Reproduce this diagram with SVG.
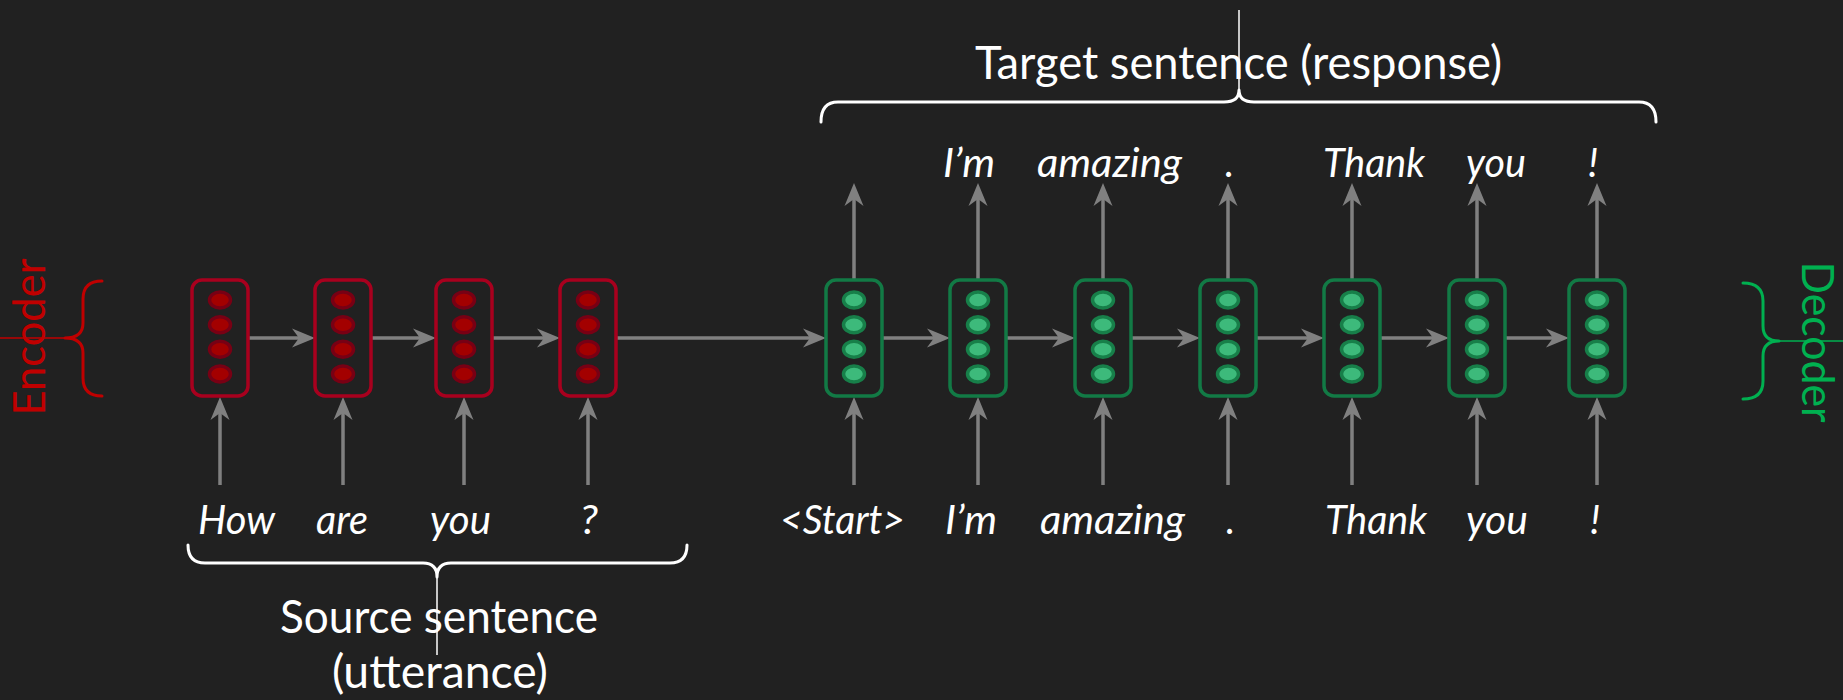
<svg xmlns="http://www.w3.org/2000/svg" width="1843" height="700" viewBox="0 0 1843 700">
  <defs>
    <style>
      .enc-box { fill: none; stroke: #a8001e; stroke-width: 3.5; }
      .enc-dot { fill: #a30000; stroke: #780014; stroke-width: 3.5; }
      .dec-box { fill: none; stroke: #127a45; stroke-width: 3.5; }
      .dec-dot { fill: #3dba7b; stroke: #177f49; stroke-width: 3.5; }
      .link { stroke: #808080; stroke-width: 3.5; fill: none; marker-end: url(#ah); }
      .word { font-family: Lato, "Open Sans", sans-serif; font-style: italic; font-weight: 400; font-size: 40px; fill: #ffffff; }
      .title { font-family: Lato, "Open Sans", sans-serif; font-weight: 400; font-size: 46px; fill: #ffffff; }
      .side { font-family: Lato, "Open Sans", sans-serif; font-weight: 400; font-size: 44px; }
      .brace { fill: none; stroke-width: 3; stroke-linecap: round; stroke-linejoin: round; }
      .hair { stroke-width: 1.5; }
    </style>
    <marker id="ah" markerUnits="userSpaceOnUse" viewBox="-20 -12 32 24" markerWidth="32" markerHeight="24" refX="0" refY="0" orient="auto" overflow="visible">
      <path d="M8,0 L-15,-9.5 L-8,0 L-15,9.5 Z" fill="#808080"/>
    </marker>
  </defs>

  <rect width="1843" height="700" fill="#212121"/>

  <!-- connectors -->
  <g id="connectors">
    <!-- encoder recurrence -->
    <line class="link" x1="248" y1="338" x2="307" y2="338"/>
    <line class="link" x1="371" y1="338" x2="428" y2="338"/>
    <line class="link" x1="492" y1="338" x2="552" y2="338"/>
    <line class="link" x1="616" y1="338" x2="818" y2="338"/>
    <!-- decoder recurrence -->
    <line class="link" x1="882" y1="338" x2="942" y2="338"/>
    <line class="link" x1="1006" y1="338" x2="1067" y2="338"/>
    <line class="link" x1="1131" y1="338" x2="1192" y2="338"/>
    <line class="link" x1="1256" y1="338" x2="1316" y2="338"/>
    <line class="link" x1="1380" y1="338" x2="1441" y2="338"/>
    <line class="link" x1="1505" y1="338" x2="1561" y2="338"/>
    <!-- inputs -->
    <line class="link" x1="220" y1="485" x2="220" y2="405"/>
    <line class="link" x1="343" y1="485" x2="343" y2="405"/>
    <line class="link" x1="464" y1="485" x2="464" y2="405"/>
    <line class="link" x1="588" y1="485" x2="588" y2="405"/>
    <line class="link" x1="854" y1="485" x2="854" y2="405"/>
    <line class="link" x1="978" y1="485" x2="978" y2="405"/>
    <line class="link" x1="1103" y1="485" x2="1103" y2="405"/>
    <line class="link" x1="1228" y1="485" x2="1228" y2="405"/>
    <line class="link" x1="1352" y1="485" x2="1352" y2="405"/>
    <line class="link" x1="1477" y1="485" x2="1477" y2="405"/>
    <line class="link" x1="1597" y1="485" x2="1597" y2="405"/>
    <!-- outputs -->
    <line class="link" x1="854" y1="280" x2="854" y2="191"/>
    <line class="link" x1="978" y1="280" x2="978" y2="191"/>
    <line class="link" x1="1103" y1="280" x2="1103" y2="191"/>
    <line class="link" x1="1228" y1="280" x2="1228" y2="191"/>
    <line class="link" x1="1352" y1="280" x2="1352" y2="191"/>
    <line class="link" x1="1477" y1="280" x2="1477" y2="191"/>
    <line class="link" x1="1597" y1="280" x2="1597" y2="191"/>
  </g>

  <!-- encoder cells -->
  <g id="enc1">
    <rect class="enc-box" x="192" y="280" width="56" height="116" rx="10"/>
    <ellipse class="enc-dot" cx="220" cy="300" rx="10.5" ry="8"/>
    <ellipse class="enc-dot" cx="220" cy="324.7" rx="10.5" ry="8"/>
    <ellipse class="enc-dot" cx="220" cy="349.3" rx="10.5" ry="8"/>
    <ellipse class="enc-dot" cx="220" cy="374" rx="10.5" ry="8"/>
  </g>
  <g id="enc2">
    <rect class="enc-box" x="315" y="280" width="56" height="116" rx="10"/>
    <ellipse class="enc-dot" cx="343" cy="300" rx="10.5" ry="8"/>
    <ellipse class="enc-dot" cx="343" cy="324.7" rx="10.5" ry="8"/>
    <ellipse class="enc-dot" cx="343" cy="349.3" rx="10.5" ry="8"/>
    <ellipse class="enc-dot" cx="343" cy="374" rx="10.5" ry="8"/>
  </g>
  <g id="enc3">
    <rect class="enc-box" x="436" y="280" width="56" height="116" rx="10"/>
    <ellipse class="enc-dot" cx="464" cy="300" rx="10.5" ry="8"/>
    <ellipse class="enc-dot" cx="464" cy="324.7" rx="10.5" ry="8"/>
    <ellipse class="enc-dot" cx="464" cy="349.3" rx="10.5" ry="8"/>
    <ellipse class="enc-dot" cx="464" cy="374" rx="10.5" ry="8"/>
  </g>
  <g id="enc4">
    <rect class="enc-box" x="560" y="280" width="56" height="116" rx="10"/>
    <ellipse class="enc-dot" cx="588" cy="300" rx="10.5" ry="8"/>
    <ellipse class="enc-dot" cx="588" cy="324.7" rx="10.5" ry="8"/>
    <ellipse class="enc-dot" cx="588" cy="349.3" rx="10.5" ry="8"/>
    <ellipse class="enc-dot" cx="588" cy="374" rx="10.5" ry="8"/>
  </g>

  <!-- decoder cells -->
  <g id="dec1">
    <rect class="dec-box" x="826" y="280" width="56" height="116" rx="10"/>
    <ellipse class="dec-dot" cx="854" cy="300" rx="10.5" ry="8"/>
    <ellipse class="dec-dot" cx="854" cy="324.7" rx="10.5" ry="8"/>
    <ellipse class="dec-dot" cx="854" cy="349.3" rx="10.5" ry="8"/>
    <ellipse class="dec-dot" cx="854" cy="374" rx="10.5" ry="8"/>
  </g>
  <g id="dec2">
    <rect class="dec-box" x="950" y="280" width="56" height="116" rx="10"/>
    <ellipse class="dec-dot" cx="978" cy="300" rx="10.5" ry="8"/>
    <ellipse class="dec-dot" cx="978" cy="324.7" rx="10.5" ry="8"/>
    <ellipse class="dec-dot" cx="978" cy="349.3" rx="10.5" ry="8"/>
    <ellipse class="dec-dot" cx="978" cy="374" rx="10.5" ry="8"/>
  </g>
  <g id="dec3">
    <rect class="dec-box" x="1075" y="280" width="56" height="116" rx="10"/>
    <ellipse class="dec-dot" cx="1103" cy="300" rx="10.5" ry="8"/>
    <ellipse class="dec-dot" cx="1103" cy="324.7" rx="10.5" ry="8"/>
    <ellipse class="dec-dot" cx="1103" cy="349.3" rx="10.5" ry="8"/>
    <ellipse class="dec-dot" cx="1103" cy="374" rx="10.5" ry="8"/>
  </g>
  <g id="dec4">
    <rect class="dec-box" x="1200" y="280" width="56" height="116" rx="10"/>
    <ellipse class="dec-dot" cx="1228" cy="300" rx="10.5" ry="8"/>
    <ellipse class="dec-dot" cx="1228" cy="324.7" rx="10.5" ry="8"/>
    <ellipse class="dec-dot" cx="1228" cy="349.3" rx="10.5" ry="8"/>
    <ellipse class="dec-dot" cx="1228" cy="374" rx="10.5" ry="8"/>
  </g>
  <g id="dec5">
    <rect class="dec-box" x="1324" y="280" width="56" height="116" rx="10"/>
    <ellipse class="dec-dot" cx="1352" cy="300" rx="10.5" ry="8"/>
    <ellipse class="dec-dot" cx="1352" cy="324.7" rx="10.5" ry="8"/>
    <ellipse class="dec-dot" cx="1352" cy="349.3" rx="10.5" ry="8"/>
    <ellipse class="dec-dot" cx="1352" cy="374" rx="10.5" ry="8"/>
  </g>
  <g id="dec6">
    <rect class="dec-box" x="1449" y="280" width="56" height="116" rx="10"/>
    <ellipse class="dec-dot" cx="1477" cy="300" rx="10.5" ry="8"/>
    <ellipse class="dec-dot" cx="1477" cy="324.7" rx="10.5" ry="8"/>
    <ellipse class="dec-dot" cx="1477" cy="349.3" rx="10.5" ry="8"/>
    <ellipse class="dec-dot" cx="1477" cy="374" rx="10.5" ry="8"/>
  </g>
  <g id="dec7">
    <rect class="dec-box" x="1569" y="280" width="56" height="116" rx="10"/>
    <ellipse class="dec-dot" cx="1597" cy="300" rx="10.5" ry="8"/>
    <ellipse class="dec-dot" cx="1597" cy="324.7" rx="10.5" ry="8"/>
    <ellipse class="dec-dot" cx="1597" cy="349.3" rx="10.5" ry="8"/>
    <ellipse class="dec-dot" cx="1597" cy="374" rx="10.5" ry="8"/>
  </g>

  <!-- input words -->
  <g id="source-words">
    <text class="word" x="198" y="534" textLength="77" lengthAdjust="spacingAndGlyphs">How</text>
    <text class="word" x="316" y="534" textLength="52" lengthAdjust="spacingAndGlyphs">are</text>
    <text class="word" x="430" y="534" textLength="61" lengthAdjust="spacingAndGlyphs">you</text>
    <text class="word" x="580" y="534" textLength="18" lengthAdjust="spacingAndGlyphs">?</text>
  </g>
  <g id="decoder-inputs">
    <text class="word" x="780" y="534" textLength="125" lengthAdjust="spacingAndGlyphs">&lt;Start&gt;</text>
    <text class="word" x="945" y="534" textLength="52" lengthAdjust="spacingAndGlyphs">I’m</text>
    <text class="word" x="1040" y="534" textLength="145" lengthAdjust="spacingAndGlyphs">amazing</text>
    <text class="word" x="1226" y="534">.</text>
    <text class="word" x="1325" y="534" textLength="102" lengthAdjust="spacingAndGlyphs">Thank</text>
    <text class="word" x="1466" y="534" textLength="62" lengthAdjust="spacingAndGlyphs">you</text>
    <text class="word" x="1590" y="534">!</text>
  </g>
  <g id="decoder-outputs">
    <text class="word" x="943" y="177" textLength="52" lengthAdjust="spacingAndGlyphs">I’m</text>
    <text class="word" x="1037" y="177" textLength="145" lengthAdjust="spacingAndGlyphs">amazing</text>
    <text class="word" x="1225" y="177">.</text>
    <text class="word" x="1323" y="177" textLength="102" lengthAdjust="spacingAndGlyphs">Thank</text>
    <text class="word" x="1466" y="177" textLength="60" lengthAdjust="spacingAndGlyphs">you</text>
    <text class="word" x="1588" y="177">!</text>
  </g>

  <!-- target sentence brace -->
  <g id="target-label">
    <path class="brace" stroke="#ffffff" d="M821,122 Q821,102 838,102 L1224,102 Q1239,102 1239,90 Q1239,102 1254,102 L1639,102 Q1656,102 1656,122"/>
    <line class="hair" stroke="#ffffff" x1="1239" y1="90" x2="1239" y2="10"/>
    <text class="title" x="975" y="79" textLength="527" lengthAdjust="spacingAndGlyphs">Target sentence (response)</text>
  </g>

  <!-- source sentence brace -->
  <g id="source-label">
    <path class="brace" stroke="#ffffff" d="M188,545 Q188,563 205,563 L423,563 Q437,563 437,577 Q437,563 451,563 L670,563 Q687,563 687,545"/>
    <line class="hair" stroke="#ffffff" x1="437" y1="577" x2="437" y2="655"/>
    <text class="title" x="280" y="633" textLength="318" lengthAdjust="spacingAndGlyphs">Source sentence</text>
    <text class="title" x="332" y="688" textLength="216" lengthAdjust="spacingAndGlyphs">(utterance)</text>
  </g>

  <!-- encoder brace -->
  <g id="encoder-label">
    <path class="brace" stroke="#c00000" d="M102,281 Q83,281 83,299 L83,323 Q83,338 65,338 Q83,338 83,353 L83,378 Q83,396 102,396"/>
    <line class="hair" stroke="#c00000" x1="65" y1="338" x2="0" y2="338"/>
    <text class="side" fill="#c00000" transform="translate(45,337) rotate(-90)" x="-78.5" y="0" textLength="157" lengthAdjust="spacingAndGlyphs">Encoder</text>
  </g>

  <!-- decoder brace -->
  <g id="decoder-label">
    <path class="brace" stroke="#00b050" d="M1743,283 Q1763,283 1763,301 L1763,326 Q1763,341 1779,341 Q1763,341 1763,356 L1763,381 Q1763,399 1743,399"/>
    <line class="hair" stroke="#00b050" x1="1779" y1="341" x2="1843" y2="341"/>
    <text class="side" fill="#00b050" transform="translate(1802,342) rotate(90)" x="-80.5" y="0" textLength="161" lengthAdjust="spacingAndGlyphs">Decoder</text>
  </g>
</svg>
